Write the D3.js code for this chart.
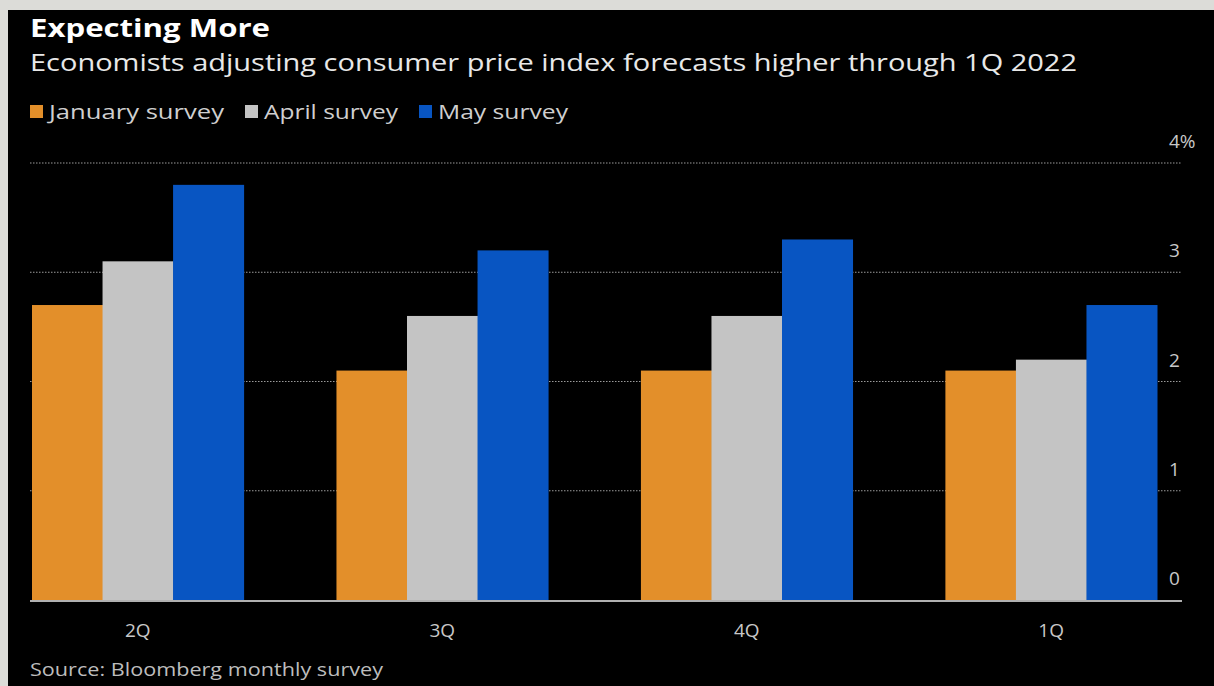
<!DOCTYPE html>
<html>
<head>
<meta charset="utf-8">
<script src="https://cdn.jsdelivr.net/npm/d3@7"></script>
<style>
  body { margin: 0; background: #dcdcd8; }
  text { font-family: "Open Sans", "DejaVu Sans", sans-serif; }
</style>
</head>
<body>
<div id="chart-area"></div>
<script>
// DATA
const quarters = ["2Q", "3Q", "4Q", "1Q"]
const seriesNames = ["January survey", "April survey", "May survey"]
const january = [2.7, 2.1, 2.1, 2.1]
const april = [3.1, 2.6, 2.6, 2.2]
const may = [3.8, 3.2, 3.3, 2.7]
const yTicks = [0, 1, 2, 3, 4]

const W = 1214, H = 686
const COLORS = ["#e38f2a", "#c4c4c4", "#0855c2"]
const PLOT = { LEFT: 32, RIGHT: 1157, TOP: 163, BOTTOM: 600 }

const svg = d3.select("#chart-area").append("svg")
  .attr("width", W)
  .attr("height", H)

svg.append("rect").attr("width", W).attr("height", H).attr("fill", "#dcdcd8")
svg.append("rect").attr("x", 8).attr("y", 10)
  .attr("width", W - 8).attr("height", H - 10).attr("fill", "#000")

// titles
svg.append("text")
  .attr("x", 30).attr("y", 37)
  .attr("fill", "#fff")
  .attr("font-size", 25).attr("font-weight", "bold")
  .attr("textLength", 240).attr("lengthAdjust", "spacingAndGlyphs")
  .text("Expecting More")

svg.append("text")
  .attr("x", 30).attr("y", 71)
  .attr("fill", "#e8e8e8")
  .attr("font-size", 23)
  .attr("textLength", 1047).attr("lengthAdjust", "spacingAndGlyphs")
  .text("Economists adjusting consumer price index forecasts higher through 1Q 2022")

// legend
const legendX = [30, 245, 419]
const legendW = [175, 134, 130]
const legend = svg.selectAll(".legend")
  .data(seriesNames)
  .enter().append("g")
  .attr("class", "legend")
  .attr("transform", (d, i) => `translate(${legendX[i]}, 105)`)
legend.append("rect")
  .attr("width", 13).attr("height", 13)
  .attr("fill", (d, i) => COLORS[i])
legend.append("text")
  .attr("x", 19).attr("y", 14)
  .attr("fill", "#cfcfcf")
  .attr("font-size", 20)
  .attr("textLength", (d, i) => legendW[i]).attr("lengthAdjust", "spacingAndGlyphs")
  .text(d => d)

// SCALES
const xScale = d3.scaleBand()
  .domain(quarters)
  .range([PLOT.LEFT, PLOT.RIGHT])
  .paddingInner(0.305)
  .paddingOuter(0)

const xSub = d3.scaleBand()
  .domain(seriesNames)
  .range([0, xScale.bandwidth()])

const yScale = d3.scaleLinear()
  .domain([0, 4])
  .range([PLOT.BOTTOM, PLOT.TOP])

// gridlines
svg.append("g")
  .selectAll("line")
  .data(yTicks.filter(d => d > 0))
  .enter().append("line")
  .attr("x1", 30).attr("x2", 1182)
  .attr("y1", d => yScale(d)).attr("y2", d => yScale(d))
  .attr("stroke", "#9a9a9a")
  .attr("stroke-width", 1.2)
  .attr("stroke-dasharray", "1.5,1.5")

// y labels
svg.append("g")
  .selectAll("text")
  .data(yTicks)
  .enter().append("text")
  .attr("x", 1169)
  .attr("y", d => yScale(d) - 15)
  .attr("fill", "#c8c8c8")
  .attr("font-size", 19)
  .text(d => d === 4 ? "4%" : d)

// bars
const table = quarters.map((q, i) => ({ q, vals: [january[i], april[i], may[i]] }))
const groups = svg.append("g").selectAll("g")
  .data(table)
  .enter().append("g")
  .attr("transform", d => `translate(${xScale(d.q)}, 0)`)
groups.selectAll("rect")
  .data(d => d.vals.map((v, i) => ({ name: seriesNames[i], v, i })))
  .enter().append("rect")
  .attr("x", d => xSub(d.name))
  .attr("y", d => yScale(d.v))
  .attr("width", xSub.bandwidth() + 0.5)
  .attr("height", d => yScale(0) - yScale(d.v))
  .attr("fill", d => COLORS[d.i])

// baseline
svg.append("line")
  .attr("x1", 30).attr("x2", 1182)
  .attr("y1", yScale(0) + 1).attr("y2", yScale(0) + 1)
  .attr("stroke", "#b0b0b0")
  .attr("stroke-width", 2)

// x axis labels
svg.append("g")
  .selectAll("text")
  .data(quarters)
  .enter().append("text")
  .attr("x", d => xScale(d) + xScale.bandwidth() / 2)
  .attr("y", 637)
  .attr("text-anchor", "middle")
  .attr("fill", "#c8c8c8")
  .attr("font-size", 19)
  .text(d => d)

// source
svg.append("text")
  .attr("x", 30).attr("y", 676)
  .attr("fill", "#bdbdbd")
  .attr("font-size", 18)
  .attr("textLength", 353).attr("lengthAdjust", "spacingAndGlyphs")
  .text("Source: Bloomberg monthly survey")
</script>
</body>
</html>
